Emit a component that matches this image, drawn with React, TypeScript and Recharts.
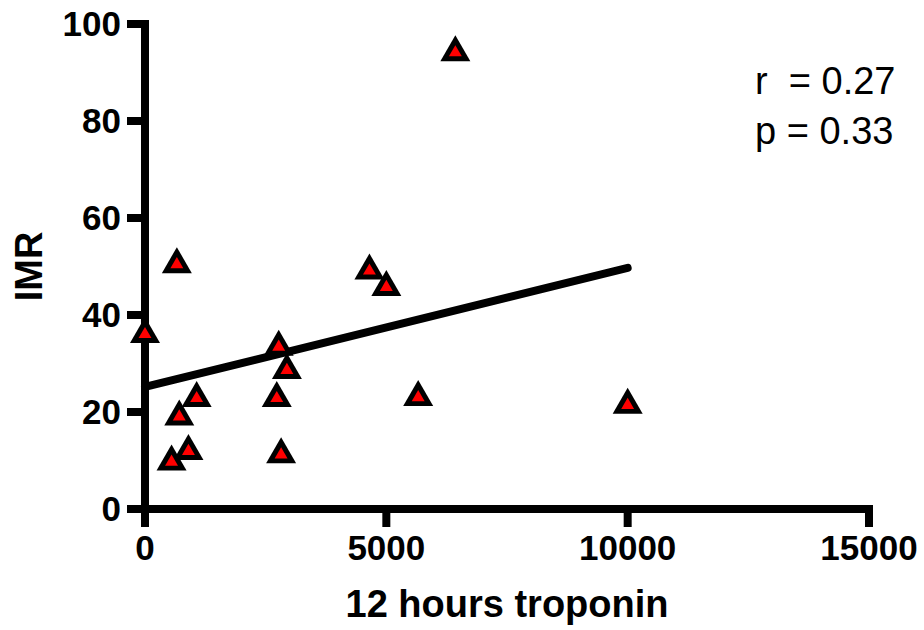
import { ScatterChart, Scatter, XAxis, YAxis, ReferenceLine, Label } from 'recharts';

// troponin at 12 h vs IMR, one entry per patient
const troponin = [0, 660, 710, 900, 550, 1070, 2770, 2940, 2730, 2820, 4650, 5000, 5660, 10000, 6430];
const imr = [36.9, 51.3, 19.9, 12.8, 10.6, 23.7, 34.3, 29.5, 23.7, 12.1, 50.0, 46.6, 23.9, 22.3, 95.0];

const xTicks = [0, 5000, 10000, 15000];
const yTicks = [0, 20, 40, 60, 80, 100];
const statLines = ['r  = 0.27', 'p = 0.33'];

const FONT = '"Liberation Sans", Arial, sans-serif';

const points = troponin.map((x, i) => ({ x, y: imr[i] }));

// least squares fit, drawn from 0 to the largest troponin value
const n = points.length;
const mx = troponin.reduce((a, b) => a + b, 0) / n;
const my = imr.reduce((a, b) => a + b, 0) / n;
let sxy = 0;
let sxx = 0;
points.forEach((p) => {
  sxy += (p.x - mx) * (p.y - my);
  sxx += (p.x - mx) * (p.x - mx);
});
const slope = sxy / sxx;
const intercept = my - slope * mx;
const xEnd = Math.max(...troponin);
const fitSegment = [
  { x: 0, y: intercept },
  { x: xEnd, y: intercept + slope * xEnd },
];

// black outlined triangle with a red core, box centred on the point
function Triangle(props: any) {
  const { cx, cy } = props;
  if (cx == null || cy == null) return null;
  const w = 30;
  const h = 26;
  const gy = cy + h / 6;
  const tri = (s: number) =>
    `M${cx},${gy - (2 * h / 3) * s} L${cx - (w / 2) * s},${gy + (h / 3) * s} L${cx + (w / 2) * s},${gy + (h / 3) * s} Z`;
  return (
    <g>
      <path d={tri(1)} fill="#000" />
      <path d={tri(0.43)} fill="#ff0000" />
    </g>
  );
}

const tickStyle = { fill: '#000', fontSize: 35, fontWeight: 'bold', fontFamily: FONT };
const axisStyle = { stroke: '#000', strokeWidth: 8, strokeLinecap: 'square' as const };
const tickLineStyle = { stroke: '#000', strokeWidth: 8 };

export default function App() {
  return (
    <div style={{ position: 'relative', width: 924, height: 630 }}>
      <style>{'body{margin:0}'}</style>
      <ScatterChart width={924} height={630} margin={{ top: 24, right: 55, bottom: 0, left: 0 }}>
        <XAxis
          type="number"
          dataKey="x"
          domain={[0, 15000]}
          ticks={xTicks}
          interval={0}
          height={121}
          stroke="#000"
          strokeWidth={8}
          tick={tickStyle}
          tickSize={18}
          tickMargin={8}
          axisLine={axisStyle}
          tickLine={tickLineStyle}
        >
          <Label
            value="12 hours troponin"
            position="insideBottom"
            offset={13}
            style={{ fill: '#000', fontSize: 38, fontWeight: 'bold', fontFamily: FONT }}
          />
        </XAxis>
        <YAxis
          type="number"
          dataKey="y"
          domain={[0, 100]}
          ticks={yTicks}
          interval={0}
          width={145}
          stroke="#000"
          strokeWidth={8}
          tick={tickStyle}
          tickSize={18}
          tickMargin={6}
          axisLine={axisStyle}
          tickLine={tickLineStyle}
        >
          <Label
            content={(p: any) => {
              const vb = p.viewBox || { x: 0, y: 24, width: 145, height: 485 };
              const cy = vb.y + vb.height / 2;
              return (
                <text
                  x={42}
                  y={cy}
                  transform={`rotate(-90, 42, ${cy})`}
                  textAnchor="middle"
                  style={{ fill: '#000', fontSize: 38, fontWeight: 'bold', fontFamily: FONT }}
                >
                  IMR
                </text>
              );
            }}
          />
        </YAxis>
        <ReferenceLine
          segment={fitSegment}
          stroke="#000"
          strokeWidth={8}
          strokeLinecap="round"
          ifOverflow="visible"
        />
        <Scatter data={points} shape={Triangle} isAnimationActive={false} />
      </ScatterChart>
      <svg width={924} height={630} style={{ position: 'absolute', left: 0, top: 0, pointerEvents: 'none' }}>
        {statLines.map((s, i) => (
          <text
            key={s}
            x={755}
            y={94 + i * 50}
            style={{ fill: '#000', fontSize: 38, fontFamily: FONT, whiteSpace: 'pre' }}
          >
            {s}
          </text>
        ))}
      </svg>
    </div>
  );
}
